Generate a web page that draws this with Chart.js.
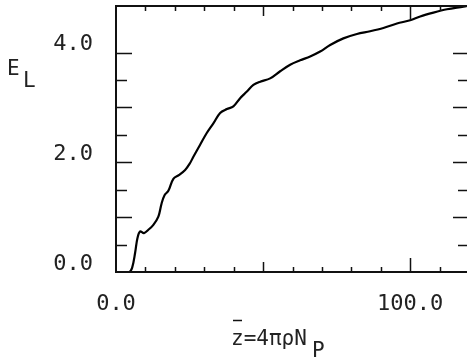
<!DOCTYPE html>
<html>
<head>
<meta charset="utf-8">
<script src="https://cdn.jsdelivr.net/npm/chart.js@4/dist/chart.umd.min.js"></script>
<style>
  html, body { margin: 0; padding: 0; background: #fff; overflow: hidden; }
  canvas { display: block; }
</style>
</head>
<body>
<canvas id="chart" width="470" height="358"></canvas>
<script>
// z-bar values along the undulator and the field energy E_L
const zValues = [0, 4.5, 5.5, 6.5, 7.3, 8.2, 9.5, 11, 12.7, 14.4, 15.5, 16.5, 17.8, 19.5, 21.5,
  23.5, 25, 26.3, 28.6, 30.8, 33.1, 35.4, 37.7, 39.9, 42.2, 44.5, 46.7, 49, 52.4, 55.8,
  59.2, 62.6, 66, 69.4, 72.8, 77.3, 81.9, 86.4, 90.9, 95.5, 100, 103.4, 107.9, 112.5, 118.1, 120];
const eValues = [0, 0, 0.08, 0.35, 0.62, 0.74, 0.71, 0.77, 0.86, 1.01, 1.25, 1.40, 1.48, 1.70, 1.77,
  1.86, 1.97, 2.10, 2.32, 2.53, 2.71, 2.90, 2.97, 3.02, 3.17, 3.29, 3.41, 3.47, 3.53, 3.66,
  3.78, 3.86, 3.93, 4.02, 4.14, 4.26, 4.34, 4.39, 4.45, 4.53, 4.59, 4.66, 4.73, 4.79, 4.84, 4.86];

const xLabelTicks = [0, 100];
const yLabelTicks = [0, 2, 4];

const FONT = '"DejaVu Sans Mono", "Liberation Mono", monospace';
const INK = '#222';

function near(v, list) {
  return list.some(t => Math.abs(v - t) < 1e-6);
}

function noPadding(scale) {
  scale.paddingLeft = 0;
  scale.paddingRight = 0;
  scale.paddingTop = 0;
  scale.paddingBottom = 0;
}

// inward ticks on all four sides plus the frame
const frameTicks = {
  id: 'frameTicks',
  afterDraw(chart) {
    const { ctx, chartArea: a, scales: { x, y } } = chart;
    ctx.save();
    ctx.strokeStyle = '#111';
    ctx.lineWidth = 2;
    ctx.strokeRect(a.left, a.top, a.right - a.left, a.bottom - a.top);
    ctx.lineWidth = 1.5;
    ctx.beginPath();
    x.ticks.forEach(t => {
      const v = t.value;
      if (v <= x.min || v >= x.max) return;
      const px = Math.round(x.getPixelForValue(v)) + 0.5;
      const len = Math.abs(v - 100) < 1e-6 ? 14 : (Math.abs(v - 50) < 1e-6 ? 10 : 5);
      ctx.moveTo(px, a.bottom); ctx.lineTo(px, a.bottom - len);
      ctx.moveTo(px, a.top); ctx.lineTo(px, a.top + len);
    });
    y.ticks.forEach(t => {
      const v = t.value;
      if (v <= y.min || v >= y.max) return;
      const py = Math.round(y.getPixelForValue(v)) + 0.5;
      const len = Math.abs(v - Math.round(v)) < 1e-6 ? 16 : 11;
      ctx.moveTo(a.left, py); ctx.lineTo(a.left + len, py);
      ctx.moveTo(a.right, py); ctx.lineTo(a.right - len, py);
    });
    // bar over the z of the x title
    ctx.moveTo(233, 320.5); ctx.lineTo(242, 320.5);
    ctx.stroke();

    // axis titles with subscripts
    ctx.fillStyle = INK;
    ctx.font = '21px ' + FONT;
    ctx.textBaseline = 'alphabetic';
    ctx.textAlign = 'left';
    ctx.fillText('E', 7, 75);
    ctx.fillText('L', 23, 87);
    ctx.fillText('z=4\u03c0\u03c1N', 231, 345);
    ctx.fillText('P', 312, 357);
    ctx.restore();
  }
};

new Chart(document.getElementById('chart').getContext('2d'), {
  type: 'scatter',
  data: {
    datasets: [{
      data: zValues.map((z, i) => ({ x: z, y: eValues[i] })),
      showLine: true,
      borderColor: '#000',
      borderWidth: 2.2,
      pointRadius: 0,
      tension: 0.35,
      fill: false
    }]
  },
  options: {
    responsive: false,
    animation: false,
    layout: { padding: { left: 0, top: 6, right: 1, bottom: 0 } },
    plugins: { legend: { display: false }, tooltip: { enabled: false } },
    scales: {
      x: {
        type: 'linear',
        min: 0,
        max: 120,
        grid: { display: false, drawTicks: false },
        border: { display: false },
        afterFit(scale) { scale.height = 86; noPadding(scale); },
        ticks: {
          stepSize: 10,
          autoSkip: false,
          maxRotation: 0,
          padding: 19,
          color: INK,
          font: { family: FONT, size: 22 },
          callback: v => near(v, xLabelTicks) ? v.toFixed(1) : ''
        }
      },
      y: {
        min: 0,
        max: 4.85,
        grid: { display: false, drawTicks: false },
        border: { display: false },
        afterFit(scale) { scale.width = 116; noPadding(scale); },
        ticks: {
          stepSize: 0.5,
          autoSkip: false,
          padding: 23,
          labelOffset: -8,
          color: INK,
          font: { family: FONT, size: 22 },
          callback: v => near(v, yLabelTicks) ? v.toFixed(1) : ''
        }
      }
    }
  },
  plugins: [frameTicks]
});
</script>
</body>
</html>
